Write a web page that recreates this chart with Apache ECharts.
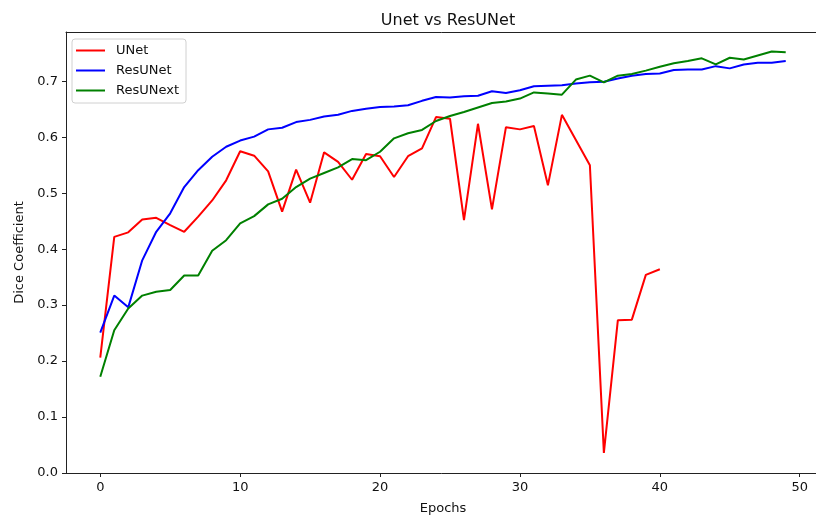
<!DOCTYPE html>
<html>
<head>
<meta charset="utf-8">
<script src="https://cdn.jsdelivr.net/npm/echarts@6/dist/echarts.min.js"></script>
<style>html,body{margin:0;padding:0;background:#fff}#c{width:816px;height:516px}</style>
</head>
<body>
<div id="c"></div>
<script>
const epochs = Array.from({length: 50}, (_, i) => i);
const unet = [0.206,0.422,0.430,0.453,0.456,0.443,0.431,0.458,0.487,0.523,0.575,0.567,0.539,0.467,0.542,0.483,0.573,0.556,0.524,0.570,0.566,0.529,0.566,0.580,0.636,0.633,0.452,0.624,0.471,0.618,0.614,0.620,0.514,0.640,0.595,0.550,0.036,0.273,0.274,0.354,0.364];
const resunet = [0.251,0.317,0.296,0.380,0.431,0.464,0.511,0.541,0.565,0.583,0.594,0.601,0.614,0.617,0.627,0.631,0.637,0.640,0.647,0.651,0.654,0.655,0.657,0.665,0.672,0.671,0.673,0.674,0.682,0.679,0.684,0.691,0.692,0.693,0.696,0.698,0.699,0.705,0.710,0.713,0.714,0.720,0.721,0.721,0.727,0.723,0.730,0.733,0.733,0.736];
const resunext = [0.172,0.255,0.294,0.317,0.324,0.327,0.353,0.353,0.397,0.416,0.446,0.459,0.480,0.490,0.511,0.526,0.536,0.546,0.561,0.559,0.574,0.598,0.607,0.613,0.629,0.638,0.645,0.653,0.661,0.664,0.669,0.680,0.678,0.676,0.703,0.710,0.698,0.710,0.713,0.719,0.726,0.732,0.736,0.741,0.730,0.742,0.739,0.746,0.753,0.752];
const xTicks = [0, 10, 20, 30, 40, 50];
const yTicks = [0.0, 0.1, 0.2, 0.3, 0.4, 0.5, 0.6, 0.7];

const pairs = arr => arr.map((v, i) => [epochs[i], v]);
const font = 'DejaVu Sans';
const chart = echarts.init(document.getElementById('c'), null, {renderer: 'canvas'});
chart.setOption({
  animation: false,
  backgroundColor: '#fff',
  title: {
    text: 'Unet vs ResUNet', left: 443, top: 8, textAlign: 'center',
    textStyle: {fontFamily: font, fontSize: 16, fontWeight: 'normal', color: '#111'}
  },
  legend: {
    orient: 'vertical', left: 72, top: 39,
    padding: [4, 7, 5, 4], itemGap: 5,
    borderColor: '#d0d0d0', borderWidth: 1, borderRadius: 3,
    icon: 'rect', itemWidth: 29, itemHeight: 2,
    textStyle: {fontFamily: font, fontSize: 13, color: '#111', lineHeight: 15, padding: [0, 0, 0, 6]},
    data: ['UNet', 'ResUNet', 'ResUNext']
  },
  grid: {left: 66, top: 32, width: 754, height: 441, outerBoundsMode: 'none'},
  xAxis: [{
    type: 'value', min: -2.45, max: 51.45,
    name: 'Epochs', nameLocation: 'middle', nameGap: 29,
    nameTextStyle: {fontFamily: font, fontSize: 13, color: '#111'},
    axisLine: {show: true, onZero: false, lineStyle: {color: '#222', width: 1}},
    axisTick: {show: true, length: 4, customValues: xTicks, lineStyle: {color: '#222'}},
    axisLabel: {customValues: xTicks, margin: 8, fontFamily: font, fontSize: 13, color: '#111'},
    splitLine: {show: false}
  }, {
    type: 'value', position: 'top', min: -2.45, max: 51.45,
    axisLine: {show: true, onZero: false, lineStyle: {color: '#222', width: 1}},
    axisTick: {show: false}, axisLabel: {show: false}, splitLine: {show: false}
  }],
  yAxis: {
    type: 'value', min: 0, max: 0.788,
    name: 'Dice Coefficient', nameLocation: 'middle', nameGap: 40, nameRotate: 90,
    nameTextStyle: {fontFamily: font, fontSize: 13, color: '#111'},
    axisLine: {show: true, onZero: false, lineStyle: {color: '#222', width: 1}},
    axisTick: {show: true, length: 4, customValues: yTicks, lineStyle: {color: '#222'}},
    axisLabel: {customValues: yTicks, margin: 8, fontFamily: font, fontSize: 13, color: '#111', formatter: v => v.toFixed(1)},
    splitLine: {show: false}
  },
  series: [
    {name: 'UNet', type: 'line', data: pairs(unet), symbol: 'none', color: '#ff0000', lineStyle: {width: 2, color: '#ff0000'}},
    {name: 'ResUNet', type: 'line', data: pairs(resunet), symbol: 'none', color: '#0000ff', lineStyle: {width: 2, color: '#0000ff'}},
    {name: 'ResUNext', type: 'line', data: pairs(resunext), symbol: 'none', color: '#008000', lineStyle: {width: 2, color: '#008000'}}
  ]
});
</script>
</body>
</html>
